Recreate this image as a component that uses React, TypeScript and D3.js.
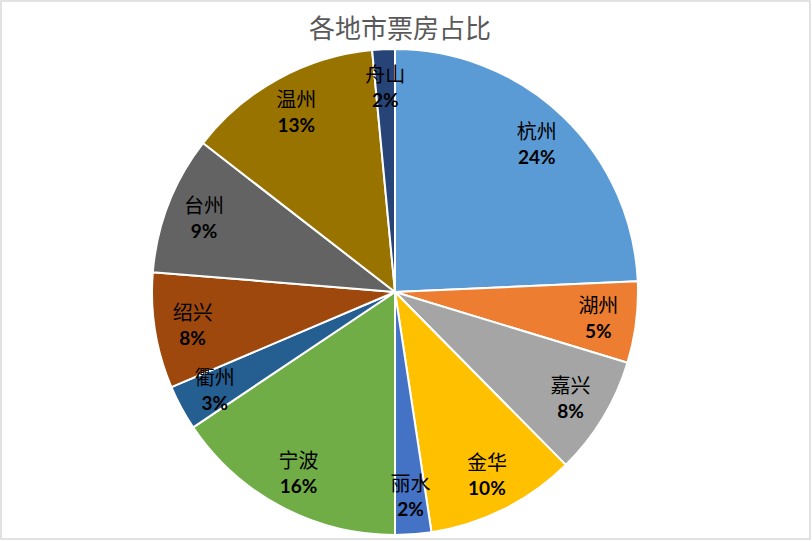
import React from "react";
import * as d3 from "d3";

const categories = ["杭州", "湖州", "嘉兴", "金华", "丽水", "宁波", "衢州", "绍兴", "台州", "温州", "舟山"];
const values = [24.3, 5.4, 7.9, 10.0, 2.4, 15.6, 3.0, 7.7, 9.2, 13.0, 1.5];
const colors = ["#5B9BD5", "#ED7D31", "#A5A5A5", "#FFC000", "#4472C4", "#70AD47", "#255E91", "#9E480E", "#636363", "#997300", "#264478"];
const title = "各地市票房占比";

export default function App() {
  const W = 812, H = 541;
  const cx = 395, cy = 292, r = 243;
  const total = d3.sum(values);
  const pie = d3.pie<number>().sort(null).value((d) => d)(values);
  const arc = d3.arc<d3.PieArcDatum<number>>().innerRadius(0).outerRadius(r);
  const labelArc = d3.arc<d3.PieArcDatum<number>>().innerRadius(205).outerRadius(205);
  return (
    <svg width={W} height={H} style={{ position: "absolute", left: 0, top: 0 }}>
      <rect x={1} y={1} width={809} height={538} fill="#fff" stroke="#d9d9d9" strokeWidth={1.5} />
      <text x={400} y={38} textAnchor="middle" fontSize={26} fill="#595959"
        fontFamily="'Noto Sans CJK SC', sans-serif">{title}</text>
      <g transform={`translate(${cx},${cy})`}>
        {pie.map((p, i) => (
          <path key={i} d={arc(p) || ""} fill={colors[i]} stroke="#fff" strokeWidth={2} strokeLinejoin="round" />
        ))}
        {pie.map((p, i) => {
          const [x, y] = labelArc.centroid(p);
          return (
            <g key={"l" + i}>
              <text x={x} y={y - 5} textAnchor="middle" fontSize={20} fill="#000"
                fontFamily="'Noto Sans CJK SC', sans-serif">{categories[i]}</text>
              <text x={x} y={y + 20} textAnchor="middle" fontSize={19} fontWeight="bold" fill="#000"
                fontFamily="Lato, 'Liberation Sans', sans-serif">{Math.round((values[i] / total) * 100)}%</text>
            </g>
          );
        })}
      </g>
    </svg>
  );
}
